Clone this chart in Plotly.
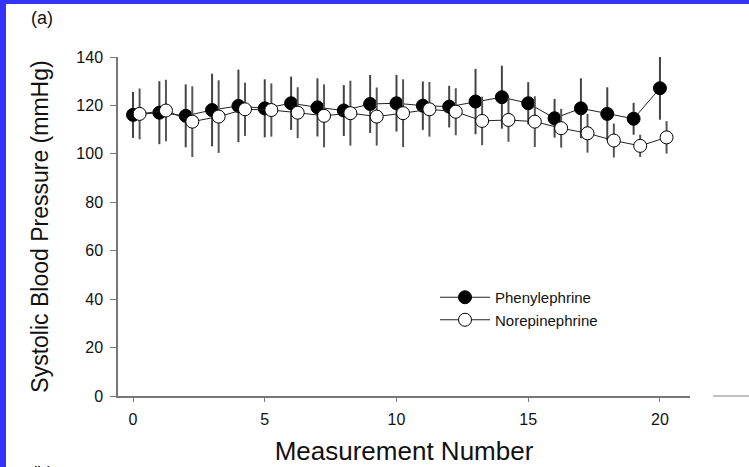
import plotly.graph_objects as go

# measurement index and blood pressure readings (mmHg)
measurement = list(range(21))

phenyl_mean = [116.1, 117.0, 115.7, 118.1, 119.8, 118.8, 120.9, 119.2, 117.9, 120.6, 120.9,
               119.9, 119.5, 121.6, 123.4, 120.9, 114.7, 118.8, 116.5, 114.5, 127.1]
phenyl_err = [9.5, 13.0, 13.0, 15.0, 15.0, 12.0, 11.0, 12.0, 10.5, 12.0, 11.7,
              10.0, 8.6, 13.5, 13.0, 8.7, 8.0, 12.4, 11.0, 6.6, 13.0]

norepi_mean = [116.5, 117.9, 113.3, 115.4, 118.4, 118.1, 117.0, 115.7, 116.8, 115.4, 116.8,
               118.4, 117.4, 113.6, 114.0, 113.3, 110.6, 108.5, 105.5, 103.3, 106.8]
norepi_err = [10.5, 12.7, 14.6, 15.0, 11.0, 11.0, 10.5, 13.0, 13.4, 12.0, 14.0,
              11.3, 9.7, 10.0, 9.0, 10.5, 8.0, 8.0, 7.0, 4.6, 6.7]

font = "Liberation Sans, Arial, sans-serif"
W, H = 749, 467
L, R, T, B = 118, 59, 57, 71
pw, ph = W - L - R, H - T - B


def px(x):
    return (x - L) / pw


def py(y):
    return (H - B - y) / ph


fig = go.Figure()

fig.add_trace(go.Scatter(
    x=measurement, y=phenyl_mean, name="Phenylephrine", mode="lines+markers",
    line=dict(color="#222222", width=1),
    marker=dict(size=13, color="black", line=dict(color="black", width=1)),
    error_y=dict(type="data", array=phenyl_err, color="#444444", thickness=2, width=0),
    cliponaxis=False,
))

fig.add_trace(go.Scatter(
    x=[m + 0.25 for m in measurement], y=norepi_mean, name="Norepinephrine", mode="lines+markers",
    line=dict(color="#222222", width=1),
    marker=dict(size=13, color="white", line=dict(color="black", width=1)),
    error_y=dict(type="data", array=norepi_err, color="#555555", thickness=2, width=0),
    cliponaxis=False,
))

axis_style = dict(showgrid=False, zeroline=False, showline=True, linecolor="#777777", linewidth=1.5,
                  ticks="outside", tickcolor="#777777", automargin=False,
                  tickfont=dict(family=font, size=16, color="#111111"))

fig.update_xaxes(range=[-0.57, 21.14], tickvals=[0, 5, 10, 15, 20], ticklen=4, ticklabelstandoff=4,
                 title=dict(text="Measurement Number", font=dict(family=font, size=26, color="#111111"),
                            standoff=15),
                 **axis_style)
fig.update_yaxes(range=[0, 140], dtick=20, ticklen=6, ticklabelstandoff=4,
                 title=dict(text="Systolic Blood Pressure (mmHg)", font=dict(family=font, size=23, color="#111111"),
                            standoff=21),
                 **axis_style)

fig.update_layout(
    width=W, height=H,
    margin=dict(l=L, r=R, t=T, b=B),
    plot_bgcolor="white", paper_bgcolor="white",
    showlegend=True,
    legend=dict(x=px(435), y=py(281), xanchor="left", yanchor="top", bgcolor="rgba(0,0,0,0)",
                itemwidth=50,
                font=dict(family=font, size=15, color="#111111"), tracegroupgap=0),
    annotations=[
        dict(text="(a)", x=px(29), y=py(18), xref="paper", yref="paper", xanchor="left", yanchor="middle",
             showarrow=False, font=dict(family=font, size=18, color="#111111")),
        dict(text="(b)", x=px(29), y=py(461), xref="paper", yref="paper", xanchor="left", yanchor="top",
             showarrow=False, font=dict(family=font, size=18, color="#111111")),
    ],
    shapes=[
        dict(type="rect", xref="paper", yref="paper", x0=px(0), x1=px(6), y0=py(H), y1=py(0),
             fillcolor="#3434f8", line=dict(width=0), layer="above"),
        dict(type="rect", xref="paper", yref="paper", x0=px(0), x1=px(W), y0=py(4), y1=py(0),
             fillcolor="#3434f8", line=dict(width=0), layer="above"),
        dict(type="line", xref="paper", yref="paper", x0=px(713), x1=px(W), y0=py(396), y1=py(396),
             line=dict(color="#aaaaaa", width=1.5)),
    ],
)

fig.write_html("out.html", config={"displayModeBar": False},
               post_script="document.body.style.margin='0px';")
